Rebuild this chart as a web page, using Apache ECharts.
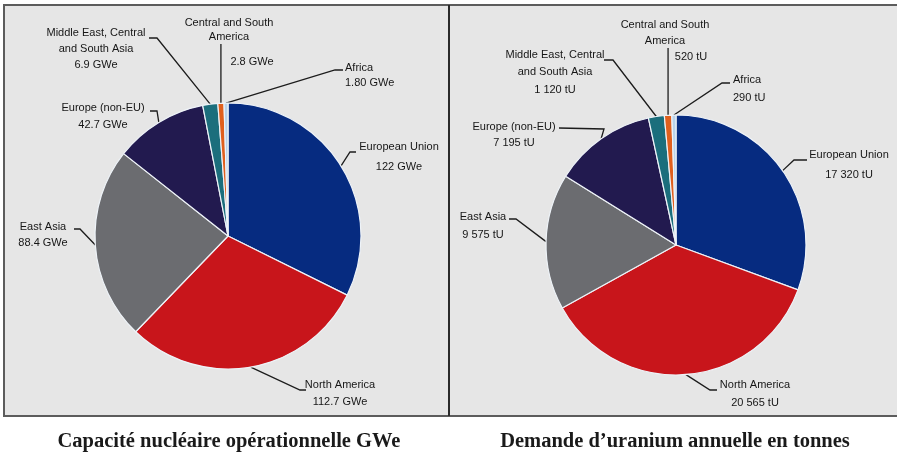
<!DOCTYPE html>
<html>
<head>
<meta charset="utf-8">
<script src="https://cdn.jsdelivr.net/npm/echarts@6/dist/echarts.min.js"></script>
<style>
html,body{margin:0;padding:0;background:#ffffff;}
#chart{width:897px;height:454px;}
</style>
</head>
<body>
<div id="chart"></div>
<script>
// ---- data ----
const regions = ['European Union', 'North America', 'East Asia', 'Europe (non-EU)',
  'Middle East, Central\nand South Asia', 'Central and South\nAmerica', 'Africa'];
const capacityGWe = [122, 112.7, 88.4, 42.7, 6.9, 2.8, 1.80];
const capacityLabels = ['122 GWe', '112.7 GWe', '88.4 GWe', '42.7 GWe', '6.9 GWe', '2.8 GWe', '1.80 GWe'];
const uraniumTU = [17320, 20565, 9575, 7195, 1120, 520, 290];
const uraniumLabels = ['17 320 tU', '20 565 tU', '9 575 tU', '7 195 tU', '1 120 tU', '520 tU', '290 tU'];
const titleLeft = 'Capacité nucléaire opérationnelle GWe';
const titleRight = 'Demande d\u2019uranium annuelle en tonnes';

// ---- styles ----
const sliceColors = ['#062b80', '#c8151b', '#6b6c70', '#221a4f', '#1b6e7c', '#e0601e', '#b9d3ea'];

// label placement (text anchor x, top y, align, line height, guide line kink/end)
const leftSpots = [
  {x: 399, y: 137, a: 'center', lh: 20, k: [350, 152], e: [356, 152]},
  {x: 340, y: 376, a: 'center', lh: 17, k: [300, 390], e: [306, 390]},
  {x: 43,  y: 219, a: 'center', lh: 16, k: [80, 229], e: [74, 229]},
  {x: 103, y: 99,  a: 'center', lh: 17, k: [157, 111], e: [150, 111]},
  {x: 96,  y: 25,  a: 'center', lh: 16, k: [157, 38], e: [149, 38]},
  {x: 229, y: 16,  a: 'center', lh: 14, vert: 44, vlh: 36, pad: 46},
  {x: 345, y: 60,  a: 'left',   lh: 15, k: [335, 70], e: [343, 70]}
];
const rightSpots = [
  {x: 849, y: 145, a: 'center', lh: 20, k: [794, 160], e: [807, 160]},
  {x: 755, y: 376, a: 'center', lh: 18, k: [710, 390], e: [717, 390]},
  {x: 483, y: 208, a: 'center', lh: 18, k: [516, 219], e: [509, 219]},
  {x: 514, y: 119, a: 'center', lh: 16, k: [604, 129], e: [559, 128]},
  {x: 555, y: 46,  a: 'center', lh: 17.5, k: [613, 60], e: [604, 60]},
  {x: 665, y: 17,  a: 'center', lh: 16, vert: 48, vlh: 16, pad: 52},
  {x: 733, y: 71,  a: 'left',   lh: 18, k: [722, 83], e: [730, 83]}
];

function buildData(values, valueLabels, spots) {
  return values.map(function (v, i) {
    const s = spots[i];
    const nameLines = regions[i].split('\n').map(function (t) { return '{n|' + t + '}'; });
    const valTok = s.pad ? '{v|' + valueLabels[i] + '}' : '{n|' + valueLabels[i] + '}';
    return {
      name: regions[i],
      value: v,
      itemStyle: {color: sliceColors[i]},
      label: {
        formatter: nameLines.concat([valTok]).join('\n'),
        rich: {
          n: {fontFamily: 'Liberation Sans', fontSize: 11, color: '#161616', lineHeight: s.lh},
          v: {fontFamily: 'Liberation Sans', fontSize: 11, color: '#161616', lineHeight: s.vlh || s.lh,
              padding: [0, 0, 0, s.pad || 0]}
        }
      }
    };
  });
}

function makeLayout(spots, values, center, radius) {
  const total = values.reduce(function (a, b) { return a + b; }, 0);
  return function (params) {
    const i = params.dataIndex;
    const s = spots[i];
    let p0 = params.labelLinePoints && params.labelLinePoints[0];
    if (!p0) {
      let cum = 0;
      for (let j = 0; j < i; j++) cum += values[j];
      const ang = (cum + values[i] / 2) / total * 2 * Math.PI;
      p0 = [center[0] + radius * Math.sin(ang), center[1] - radius * Math.cos(ang)];
    }
    let pts;
    if (s.vert) {
      pts = [p0, [p0[0], s.vert + 10], [p0[0], s.vert]];
    } else {
      pts = [p0, s.k, s.e];
    }
    return {x: s.x, y: s.y, align: s.a, verticalAlign: 'top', labelLinePoints: pts};
  };
}

function pieSeries(values, valueLabels, spots, center, radius) {
  return {
    type: 'pie',
    center: center,
    radius: radius,
    startAngle: 90,
    clockwise: true,
    avoidLabelOverlap: false,
    animation: false,
    silent: true,
    itemStyle: {borderColor: '#eef3f8', borderWidth: 1.2},
    label: {show: true, position: 'outside'},
    labelLine: {show: true, length: 10, length2: 10, smooth: false,
      lineStyle: {color: '#1c1c1c', width: 1.3}},
    emphasis: {disabled: true},
    labelLayout: makeLayout(spots, values, center, radius),
    data: buildData(values, valueLabels, spots)
  };
}

const chart = echarts.init(document.getElementById('chart'), null, {renderer: 'canvas'});
chart.setOption({
  backgroundColor: '#ffffff',
  animation: false,
  graphic: [
    {type: 'rect', z: -10, shape: {x: 4, y: 5, width: 896, height: 411},
      style: {fill: '#e6e6e6', stroke: '#5c5c5c', lineWidth: 2}},
    {type: 'line', z: -9, shape: {x1: 449, y1: 5, x2: 449, y2: 416},
      style: {stroke: '#2a2a2a', lineWidth: 2}},
    {type: 'text', x: 229, y: 442,
      style: {text: titleLeft, x: 0, y: 0, align: 'center', verticalAlign: 'middle',
        font: 'bold 20.5px "Liberation Serif", serif', fill: '#1a1a1a'}},
    {type: 'text', x: 675, y: 442,
      style: {text: titleRight, x: 0, y: 0, align: 'center', verticalAlign: 'middle',
        font: 'bold 20.5px "Liberation Serif", serif', fill: '#1a1a1a'}}
  ],
  series: [
    pieSeries(capacityGWe, capacityLabels, leftSpots, [228, 236], 133),
    pieSeries(uraniumTU, uraniumLabels, rightSpots, [676, 245], 130)
  ]
});
</script>
</body>
</html>
